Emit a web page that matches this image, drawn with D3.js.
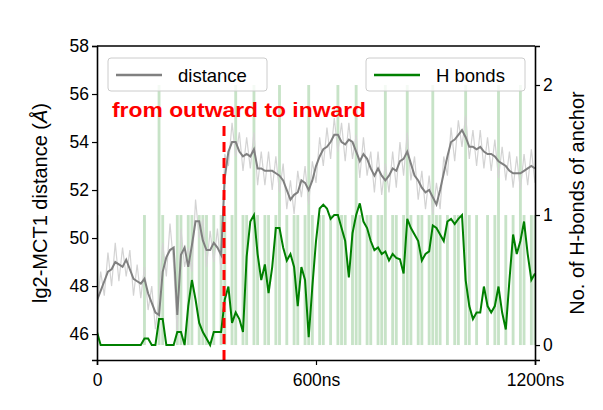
<!DOCTYPE html>
<html>
<head>
<meta charset="utf-8">
<script src="https://cdn.jsdelivr.net/npm/d3@7"></script>
<style>
  body { margin: 0; background: #fff; }
  text { font-family: "Liberation Sans", Arial, sans-serif; }
</style>
</head>
<body>
<svg id="chart" width="603" height="410"></svg>
<script>
"use strict";

// sampled every 10 ns, 0..1200
const distanceRaw = [47.0,48.6,47.6,49.4,48.0,49.8,48.2,49.6,48.4,49.5,
  47.6,48.9,47.5,48.8,47.0,48.0,46.2,47.6,49.8,48.4,
  50.6,48.9,46.0,50.4,48.8,49.6,48.6,51.6,50.0,50.8,
  48.8,50.3,49.0,50.4,48.6,53.5,53.0,54.8,53.4,54.4,
  52.8,54.2,52.9,54.4,52.2,53.6,52.2,53.6,52.0,53.4,
  51.9,53.1,51.2,52.4,51.0,52.8,51.7,53.0,51.4,53.2,
  52.3,54.2,53.0,54.6,53.3,55.0,53.6,54.8,53.2,54.8,
  53.3,54.3,52.5,54.2,52.6,53.6,51.9,53.6,51.8,53.1,
  51.9,53.6,52.1,54.0,52.6,54.4,52.4,53.4,51.6,52.8,
  51.2,52.6,51.0,52.3,51.2,53.4,52.6,54.6,53.2,54.9,
  53.8,55.1,53.3,54.5,53.0,54.5,52.9,54.2,52.8,54.1,
  52.5,53.8,52.4,53.6,52.1,53.4,52.0,53.5,52.2,53.7,52.3];

const distanceSmooth = [47.4,47.8,48.2,48.6,48.7,49.0,48.9,48.8,49.1,48.7,
  48.3,48.2,48.1,48.3,47.7,47.3,46.9,46.8,48.6,49.2,
  49.5,49.6,46.8,49.3,49.6,48.8,49.7,50.7,50.7,49.9,
  49.5,49.5,49.8,49.6,49.3,52.5,53.6,54.0,54.0,53.6,
  53.4,53.5,53.4,53.7,52.9,52.9,52.8,52.8,52.8,52.7,
  52.6,52.4,52.0,51.6,51.8,51.9,52.4,52.3,52.0,52.4,
  53.0,53.4,53.7,53.8,54.0,54.3,54.3,54.0,53.9,54.1,
  54.0,53.6,53.2,53.5,53.3,52.9,52.6,52.9,52.6,52.4,
  52.6,52.9,52.8,53.2,53.3,53.6,53.1,52.6,52.4,52.1,
  51.9,52.0,51.7,51.4,52.0,52.7,53.4,54.0,54.1,54.3,
  54.5,54.2,53.8,53.8,53.7,53.8,53.6,53.5,53.5,53.4,
  53.2,53.1,53.0,52.8,52.7,52.7,52.7,52.8,52.9,53.0,52.9];

const hbondRaw = [1,0,0,0,0,0,0,0,0,0,0,0,0,
  1,0,0,0,2,1,0,0,0,1,
  1,0,1,1,0,1,1,1,0,1,0,1,
  1,0,1,2,0,1,1,0,2,1,
  0,1,1,0,1,2,0,1,0,1,
  1,0,1,2,1,0,1,1,0,1,
  0,2,1,1,0,1,2,1,0,1,
  1,0,1,1,2,0,1,1,0,1,
  2,1,0,1,1,0,1,2,1,1,
  0,1,0,1,1,0,2,1,0,1,
  0,0,1,0,1,2,0,1,0,1,
  0,2,1,0,1,1];

const hbondSmooth = [0.1,0,0,0,0,0,0,0,0,0,0,0,0,
  0.05,0.05,0,0,0.2,0.2,0,0,0,0.1,
  0.1,0,0.3,0.5,0.35,0.17,0.1,0.05,0,0.1,0.1,0.1,
  0.35,0.45,0.17,0.25,0.2,0.1,0.68,0.95,1.0,0.7,
  0.5,0.62,0.4,0.6,0.9,0.9,0.75,0.65,0.7,0.6,
  0.3,0.6,0.5,0.06,0.45,0.8,1.05,1.08,1.05,0.97,
  1.0,1.0,0.9,0.8,0.52,0.86,1.0,1.09,0.95,0.9,
  0.8,0.73,0.75,0.7,0.72,0.65,0.7,0.67,0.66,0.55,
  0.97,0.9,0.85,0.8,0.65,0.7,0.72,0.92,0.9,0.85,
  0.8,0.95,0.97,0.93,0.97,1.0,0.5,0.3,0.2,0.25,
  0.25,0.45,0.3,0.25,0.3,0.45,0.25,0.12,0.5,0.85,
  0.7,0.8,0.95,0.7,0.5,0.55];

const step = 10;
const transitionTime = 348;
const xTicks = [0, 600, 1200];
const xTickLabels = ["0", "600ns", "1200ns"];
const leftTicks = [46, 48, 50, 52, 54, 56, 58];
const rightTicks = [0, 1, 2];

const svg = d3.select("#chart");
const m = { left: 97, right: 535, top: 46, bottom: 360 };

const x = d3.scaleLinear().domain([0, 1200]).range([m.left, m.right]);
const yL = d3.scaleLinear().domain([44.92, 58]).range([m.bottom, m.top]);
const yR = d3.scaleLinear().domain([-0.115, 2.3]).range([m.bottom, m.top]);

svg.append("clipPath").attr("id", "clip")
  .append("rect").attr("x", m.left).attr("y", m.top)
  .attr("width", m.right - m.left).attr("height", m.bottom - m.top);

const plot = svg.append("g").attr("clip-path", "url(#clip)");

// raw H-bond counts as thin translucent bars from 0
const bw = x(step) - x(0);
plot.selectAll("rect.hraw").data(hbondRaw).join("rect")
  .attr("class", "hraw")
  .attr("x", (d, i) => x(i * step) - bw / 2 + 0.4)
  .attr("width", bw - 0.8)
  .attr("y", d => yR(d))
  .attr("height", d => yR(0) - yR(d))
  .attr("fill", "#008000").attr("fill-opacity", 0.22);

plot.append("path").datum(distanceRaw)
  .attr("d", d3.line().x((d, i) => x(i * step)).y(d => yL(d)))
  .attr("fill", "none").attr("stroke", "#d3d3d3").attr("stroke-width", 1.2);

plot.append("path").datum(distanceSmooth)
  .attr("d", d3.line().x((d, i) => x(i * step)).y(d => yL(d)))
  .attr("fill", "none").attr("stroke", "#808080").attr("stroke-width", 2);

plot.append("path").datum(hbondSmooth)
  .attr("d", d3.line().x((d, i) => x(i * step)).y(d => yR(d)))
  .attr("fill", "none").attr("stroke", "#008000").attr("stroke-width", 2);

svg.append("line")
  .attr("x1", x(transitionTime)).attr("x2", x(transitionTime))
  .attr("y1", 126).attr("y2", m.bottom)
  .attr("stroke", "#ff0000").attr("stroke-width", 3).attr("stroke-dasharray", "10,6");

svg.append("text").attr("x", 112).attr("y", 117)
  .attr("fill", "#ff0000").attr("font-weight", "bold").attr("font-size", 20.5)
  .attr("textLength", 254).attr("lengthAdjust", "spacingAndGlyphs")
  .text("from outward to inward");

// axes
const axB = svg.append("g").attr("transform", `translate(0,${m.bottom})`)
  .call(d3.axisBottom(x).tickValues(xTicks).tickFormat((d, i) => xTickLabels[i]).tickSizeOuter(0).tickSize(5));
const axL = svg.append("g").attr("transform", `translate(${m.left},0)`)
  .call(d3.axisLeft(yL).tickValues(leftTicks).tickSizeOuter(0).tickSize(5));
const axR = svg.append("g").attr("transform", `translate(${m.right},0)`)
  .call(d3.axisRight(yR).tickValues(rightTicks).tickFormat(d3.format("d")).tickSizeOuter(0).tickSize(5));
svg.append("line").attr("x1", m.left).attr("x2", m.right)
  .attr("y1", m.top).attr("y2", m.top).attr("stroke", "#000").attr("stroke-width", 1.6);

[axB, axL, axR].forEach(a => {
  a.selectAll("path.domain").attr("stroke-width", 1.6);
  a.selectAll(".tick line").attr("stroke-width", 1.2);
  a.selectAll("text").attr("font-size", 17.5).attr("font-family", "Liberation Sans, Arial, sans-serif");
});
axB.selectAll("text").attr("dy", "1em");

svg.append("text")
  .attr("transform", `translate(47,${(m.top + m.bottom) / 2}) rotate(-90)`)
  .attr("text-anchor", "middle").attr("font-size", 20)
  .html('lg2-MCT1 distance (<tspan font-style="italic">Å</tspan>)');

svg.append("text")
  .attr("transform", `translate(584,${(m.top + m.bottom) / 2}) rotate(-90)`)
  .attr("text-anchor", "middle").attr("font-size", 20)
  .text("No. of H-bonds of anchor");

// legends
function legend(x0, label, color) {
  const g = svg.append("g");
  g.append("rect").attr("x", x0).attr("y", 58).attr("width", 159).attr("height", 33)
    .attr("rx", 3).attr("fill", "#fff").attr("fill-opacity", 0.8)
    .attr("stroke", "#ccc").attr("stroke-width", 1);
  g.append("line").attr("x1", x0 + 8).attr("x2", x0 + 54).attr("y1", 75).attr("y2", 75)
    .attr("stroke", color).attr("stroke-width", 2.5);
  g.append("text").attr("x", x0 + 70).attr("y", 82).attr("font-size", 18.5).text(label);
}
legend(108, "distance", "#808080");
legend(366, "H bonds", "#008000");
</script>
</body>
</html>
